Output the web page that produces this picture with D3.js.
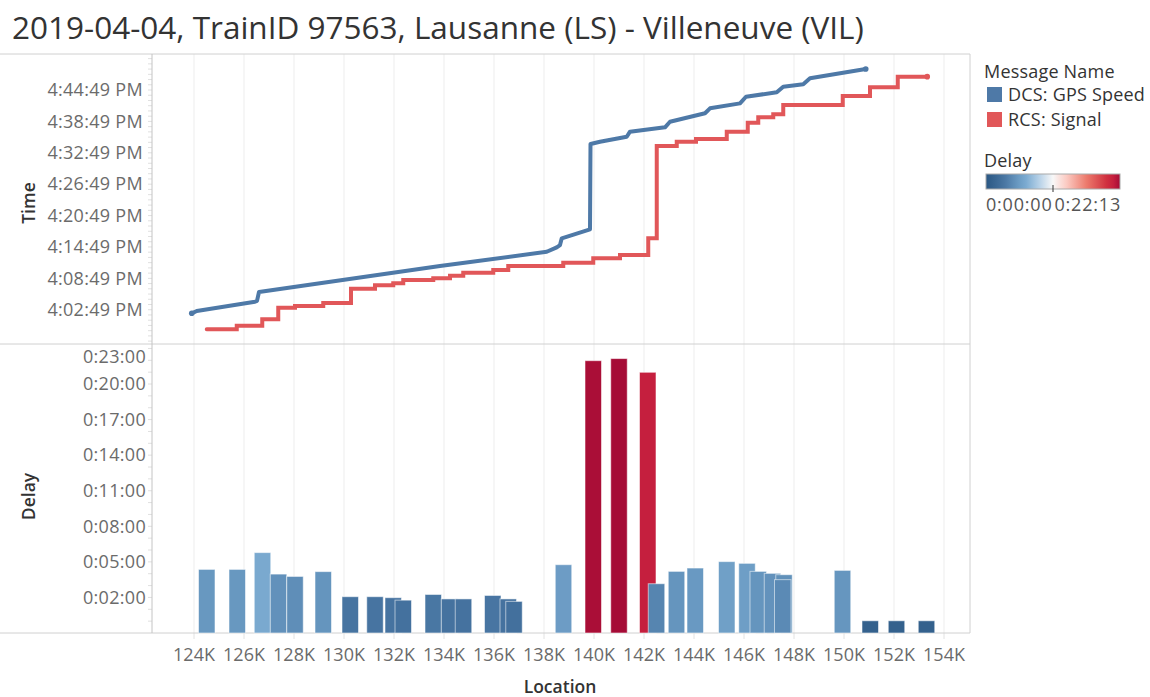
<!DOCTYPE html>
<html>
<head>
<meta charset="utf-8">
<script src="https://cdn.jsdelivr.net/npm/d3@7"></script>
<style>
  body { margin: 0; background: #fff; }
  svg text { font-family: "Open Sans", sans-serif; }
</style>
</head>
<body>
<div id="chart"></div>
<script>
// --- data ---
// DCS: GPS Speed  (location in km, time of day)
const dcsLoc  = [123.91, 124.11, 126.44, 126.52, 126.60, 133.84, 138.11, 138.51, 138.64, 138.71, 139.84, 139.86, 140.24,
                 141.31, 141.44, 142.84, 143.04, 144.44, 144.64, 145.84, 146.08, 147.31, 147.57, 148.37, 148.64, 150.87];
const dcsTime = ["16:02:08", "16:02:34", "16:04:21", "16:04:31", "16:06:12", "16:11:10", "16:13:54", "16:14:45", "16:15:11",
                 "16:16:28", "16:18:11", "16:34:30", "16:34:56", "16:35:53", "16:36:51", "16:37:41", "16:38:45", "16:40:22",
                 "16:41:19", "16:42:16", "16:43:32", "16:44:23", "16:45:27", "16:45:54", "16:47:03", "16:48:50"];

// RCS: Signal (step line)
const rcsLoc  = [124.51, 125.71, 126.73, 127.37, 128.04, 129.17, 130.28, 131.24, 131.97, 132.37, 133.57, 134.24, 134.77,
                 135.97, 136.57, 138.77, 139.97, 141.04, 142.17, 142.51, 143.31, 144.08, 145.31, 146.15, 146.57, 147.17,
                 147.57, 149.95, 151.04, 152.15, 153.33];
const rcsTime = ["15:59:04", "15:59:45", "16:00:59", "16:03:12", "16:03:31", "16:04:06", "16:06:50", "16:07:29", "16:07:52",
                 "16:08:30", "16:08:49", "16:09:19", "16:09:53", "16:10:24", "16:11:10", "16:11:48", "16:12:39", "16:13:16",
                 "16:16:28", "16:34:07", "16:34:56", "16:35:27", "16:36:51", "16:38:34", "16:39:36", "16:40:10", "16:41:57",
                 "16:43:40", "16:45:20", "16:47:22", "16:47:22"];

// Delay bars (location km, delay minutes)
const barLoc   = [124.51, 125.73, 126.74, 127.38, 128.04, 129.17, 130.25, 131.24, 131.97, 132.37, 133.57, 134.22, 134.78,
                  135.95, 136.57, 136.80, 138.78, 139.97, 141.00, 142.15, 142.50, 143.30, 144.05, 145.31, 146.12, 146.57,
                  147.14, 147.60, 147.55, 149.94, 151.05, 152.10, 153.30];
const barDelay = [5.15, 5.15, 6.51, 4.77, 4.58, 4.97, 2.94, 2.94, 2.86, 2.66, 3.12, 2.76, 2.76,
                  3.04, 2.76, 2.56, 5.53, 22.05, 22.22, 21.11, 3.99, 4.99, 5.26, 5.78, 5.64, 4.99,
                  4.83, 4.72, 4.32, 5.07, 0.99, 0.99, 0.99];

// ticks
const locTicks   = [124, 126, 128, 130, 132, 134, 136, 138, 140, 142, 144, 146, 148, 150, 152, 154];
const timeTicks  = ["16:02:49", "16:08:49", "16:14:49", "16:20:49", "16:26:49", "16:32:49", "16:38:49", "16:44:49"];
const delayTicks = [2.88, 5.76, 8.64, 11.52, 14.4, 17.28, 20.16, 23.04];   // minutes (0.002 day steps)
const delayTickLabels = ["0:02:00", "0:05:00", "0:08:00", "0:11:00", "0:14:00", "0:17:00", "0:20:00", "0:23:00"];

const seriesNames  = ["DCS: GPS Speed", "RCS: Signal"];
const seriesColors = ["#4e79a7", "#e15759"];
const delayRange   = [0, 22.22];

// --- layout ---
const width = 1150, height = 697;
const left = 152, right = 970;
const topY = 54, midY = 344, botY = 633;
const tickFont = 18, titleFont = 17.5;

const parseT = d3.timeParse("%H:%M:%S");

const svg = d3.select("#chart").append("svg")
    .attr("width", width)
    .attr("height", height);

svg.append("rect").attr("width", width).attr("height", height).attr("fill", "#fff");

// scales
const x = d3.scaleLinear().domain([122.32, 155.04]).range([left, right]);
const yTime = d3.scaleTime().domain([parseT("15:56:16"), parseT("16:51:42")]).range([midY, topY]);
const yDelay = d3.scaleLinear().domain([0, 23.4]).range([botY, midY]);

const color = d3.scaleLinear()
    .domain([0, 0.13, 0.23, 0.3, 0.4, 0.5, 0.6, 0.75, 0.9, 0.95, 1].map(f => f * delayRange[1]))
    .range(["#2a5783", "#4673a0", "#6797c0", "#7cabd1", "#b8d2e8", "#f8f8f8", "#fbcbc3", "#ec7a6c", "#d0303f", "#c51f3e", "#a50b36"]);

// title
svg.append("text")
    .attr("x", 12).attr("y", 39)
    .attr("font-size", 31.5)
    .attr("fill", "#333")
    .text("2019-04-04, TrainID 97563, Lausanne (LS) - Villeneuve (VIL)");

// gridlines
svg.append("g").selectAll("line")
  .data(locTicks)
  .join("line")
    .attr("x1", d => x(d)).attr("x2", d => x(d))
    .attr("y1", topY).attr("y2", botY)
    .attr("stroke", "#ededed");

// x tick marks under axis
svg.append("g").selectAll("line")
  .data(locTicks)
  .join("line")
    .attr("x1", d => x(d)).attr("x2", d => x(d))
    .attr("y1", botY).attr("y2", botY + 6)
    .attr("stroke", "#e2e2e2");

// minor ticks on y axes
const minorTime = d3.range(-6, 55).map(i => new Date(parseT("16:02:49").getTime() + i * 60000))
    .filter(d => d >= yTime.domain()[0] && d <= yTime.domain()[1]);
svg.append("g").selectAll("line")
  .data(minorTime)
  .join("line")
    .attr("x1", left - 4).attr("x2", left)
    .attr("y1", d => yTime(d)).attr("y2", d => yTime(d))
    .attr("stroke", "#e0e0e0");

const minorDelay = d3.range(1, 25).map(i => i * 0.96).filter(d => d <= 23.4);
svg.append("g").selectAll("line")
  .data(minorDelay)
  .join("line")
    .attr("x1", left - 4).attr("x2", left)
    .attr("y1", d => yDelay(d)).attr("y2", d => yDelay(d))
    .attr("stroke", "#e0e0e0");

// frame lines
const frame = svg.append("g").attr("stroke", "#d0d0d0").attr("fill", "none");
[topY, midY, botY].forEach(yy => frame.append("line").attr("x1", 0).attr("x2", right).attr("y1", yy).attr("y2", yy));
frame.append("line").attr("x1", right).attr("x2", right).attr("y1", topY).attr("y2", botY);
frame.append("line").attr("x1", left).attr("x2", left).attr("y1", topY).attr("y2", botY).attr("stroke", "#c4c4c4");

// time axis labels
svg.append("g").selectAll("text")
  .data(timeTicks)
  .join("text")
    .attr("x", left - 9)
    .attr("y", d => yTime(parseT(d)))
    .attr("dy", "0.35em")
    .attr("text-anchor", "end")
    .attr("font-size", tickFont)
    .attr("letter-spacing", 0.3)
    .attr("fill", "#6b6b6b")
    .text(d => d3.timeFormat("%-I:%M:%S %p")(parseT(d)));

// delay axis labels (top one pushed inside the pane)
svg.append("g").selectAll("text")
  .data(delayTicks)
  .join("text")
    .attr("x", left - 6)
    .attr("y", d => Math.max(yDelay(d), midY + 13))
    .attr("dy", "0.35em")
    .attr("text-anchor", "end")
    .attr("font-size", tickFont)
    .attr("letter-spacing", 0.3)
    .attr("fill", "#6b6b6b")
    .text((d, i) => delayTickLabels[i]);

// x axis labels
svg.append("g").selectAll("text")
  .data(locTicks)
  .join("text")
    .attr("x", d => x(d))
    .attr("y", 655)
    .attr("dy", "0.35em")
    .attr("text-anchor", "middle")
    .attr("font-size", tickFont)
    .attr("fill", "#6b6b6b")
    .text(d => d + "K");

// axis titles
svg.append("text")
    .attr("transform", `translate(35, ${(topY + midY) / 2 + 4}) rotate(-90)`)
    .attr("text-anchor", "middle")
    .attr("font-size", titleFont).attr("font-weight", 600).attr("fill", "#333")
    .text("Time");
svg.append("text")
    .attr("transform", `translate(35, ${(midY + botY) / 2 + 8}) rotate(-90)`)
    .attr("text-anchor", "middle")
    .attr("font-size", titleFont).attr("font-weight", 600).attr("fill", "#333")
    .text("Delay");
svg.append("text")
    .attr("x", (left + right) / 2 - 1).attr("y", 687)
    .attr("dy", "0.35em")
    .attr("text-anchor", "middle")
    .attr("font-size", titleFont).attr("font-weight", 600).attr("fill", "#333")
    .text("Location");

// --- top pane: lines ---
const dcsData = dcsLoc.map((d, i) => ({loc: d, t: parseT(dcsTime[i])}));
const rcsData = rcsLoc.map((d, i) => ({loc: d, t: parseT(rcsTime[i])}));

svg.append("path")
    .datum(rcsData)
    .attr("d", d3.line().x(d => x(d.loc)).y(d => yTime(d.t)).curve(d3.curveStepAfter))
    .attr("fill", "none")
    .attr("stroke", seriesColors[1])
    .attr("stroke-width", 4)
    .attr("stroke-linecap", "round");

svg.append("path")
    .datum(dcsData)
    .attr("d", d3.line().x(d => x(d.loc)).y(d => yTime(d.t)))
    .attr("fill", "none")
    .attr("stroke", seriesColors[0])
    .attr("stroke-width", 4)
    .attr("stroke-linejoin", "round")
    .attr("stroke-linecap", "round");

// end dots
[[dcsData[0], 0], [dcsData[dcsData.length - 1], 0], [rcsData[rcsData.length - 1], 1]].forEach(([d, s]) => {
  svg.append("circle")
      .attr("cx", x(d.loc)).attr("cy", yTime(d.t)).attr("r", 2.8)
      .attr("fill", seriesColors[s]);
});

// --- bottom pane: bars ---
const barData = barLoc.map((d, i) => ({loc: d, delay: barDelay[i]}))
    .sort((a, b) => b.delay - a.delay);     // shorter bars end up in front
const halfW = 0.33;

svg.append("g").selectAll("rect")
  .data(barData)
  .join("rect")
    .attr("x", d => x(d.loc - halfW))
    .attr("width", d => x(d.loc + halfW) - x(d.loc - halfW))
    .attr("y", d => yDelay(d.delay))
    .attr("height", d => yDelay(0) - yDelay(d.delay))
    .attr("fill", d => color(d.delay))
    .attr("stroke", "rgba(255,255,255,0.55)")
    .attr("stroke-width", 1);

// --- legend ---
const lg = svg.append("g").attr("transform", "translate(984, 0)");
lg.append("text").attr("x", 0).attr("y", 78)
    .attr("font-size", tickFont).attr("letter-spacing", 0.2).attr("fill", "#333").text("Message Name");

seriesNames.forEach((name, i) => {
  lg.append("rect")
      .attr("x", 3).attr("y", 87 + i * 25)
      .attr("width", 15).attr("height", 15)
      .attr("fill", seriesColors[i]);
  lg.append("text")
      .attr("x", 24).attr("y", 94.5 + i * 25)
      .attr("dy", "0.35em")
      .attr("font-size", tickFont).attr("letter-spacing", 0.2).attr("fill", "#333")
      .text(name);
});

lg.append("text").attr("x", 0).attr("y", 167)
    .attr("font-size", tickFont).attr("letter-spacing", 0.2).attr("fill", "#333").text("Delay");

const grad = svg.append("defs").append("linearGradient").attr("id", "delayGrad");
d3.range(0, 1.0001, 0.05).forEach(f => {
  grad.append("stop")
      .attr("offset", (f * 100) + "%")
      .attr("stop-color", color(f * delayRange[1]));
});

lg.append("rect")
    .attr("x", 2).attr("y", 174)
    .attr("width", 134).attr("height", 15)
    .attr("fill", "url(#delayGrad)")
    .attr("stroke", "#aaa");
lg.append("line")
    .attr("x1", 69).attr("x2", 69).attr("y1", 185).attr("y2", 192)
    .attr("stroke", "#333");

const fmtDur = m => {
  const s = Math.round(m * 60);
  return Math.floor(s / 3600) + ":" + d3.format("02")(Math.floor(s / 60) % 60) + ":" + d3.format("02")(s % 60);
};
lg.append("text").attr("x", 2).attr("y", 205).attr("dy", "0.35em")
    .attr("font-size", tickFont).attr("letter-spacing", 0.8).attr("fill", "#555").text(fmtDur(delayRange[0]));
lg.append("text").attr("x", 137).attr("y", 205).attr("dy", "0.35em")
    .attr("text-anchor", "end")
    .attr("font-size", tickFont).attr("letter-spacing", 0.8).attr("fill", "#555").text(fmtDur(delayRange[1]));
</script>
</body>
</html>
